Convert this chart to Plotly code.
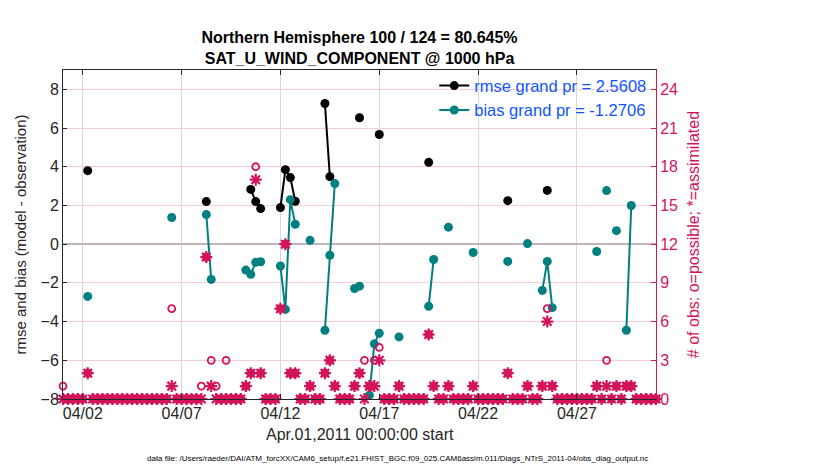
import datetime as dt
import plotly.graph_objects as go

# ---------------- data (6-hourly bins starting Apr 1 2011 00:00) ----------------
start = dt.datetime(2011, 4, 1, 0, 0)
n_bins = 121

assim_bins = [5, 22, 29, 30, 37, 38, 39, 40, 44, 45, 46, 47, 50, 53, 54, 55, 59, 60,
              62, 63, 64, 68, 74, 75, 78, 83, 90, 94, 97, 98, 99, 108, 110, 112, 114, 115]
assim_counts = [2, 1, 11, 1, 1, 2, 17, 2, 7, 12, 2, 2, 1, 2, 3, 1, 1, 2,
                1, 1, 3, 1, 5, 1, 1, 1, 2, 1, 1, 6, 1, 1, 1, 1, 1, 1]
bias_vals = [-2.7, 1.38, 1.53, -1.82, -1.34, -1.56, -0.94, -0.91, -1.13, -3.37, 2.3, 1.03,
             0.2, -4.45, -0.57, 3.13, -2.29, -2.17, -7.8, -5.15, -4.6, -4.79, -3.21, -0.79,
             0.88, -0.43, -0.89, 0.03, -2.39, -0.89, -3.28, -0.38, 2.77, 0.7, -4.45, 2.0]
rmse_vals = [3.8, None, 2.2, None, None, 2.83, 2.2, 1.84, 1.89, 3.85, 3.44, 2.22,
             None, 7.27, 3.49, None, None, 6.53, None, None, 5.67, None, 4.23, None,
             None, None, 2.25, None, None, 2.78, None, None, None, None, None, None]

# bins where the number of possible obs differs from the assimilated count
extra_possible_bins = [0, 22, 28, 30, 31, 33, 39, 61, 63, 64, 98, 110]
extra_possible_counts = [1, 7, 1, 3, 1, 3, 18, 3, 3, 4, 7, 3]

x_tick_dates = ["2011-04-02", "2011-04-07", "2011-04-12", "2011-04-17", "2011-04-22", "2011-04-27"]
x_tick_labels = ["04/02", "04/07", "04/12", "04/17", "04/22", "04/27"]

rmse_label = "rmse grand pr = 2.5608"
bias_label = "bias grand pr = -1.2706"
title_text = "<b>Northern Hemisphere 100 / 124 = 80.645%</b><br><b>SAT_U_WIND_COMPONENT @ 1000 hPa</b>"
data_file = ("data file: /Users/raeder/DAI/ATM_forcXX/CAM6_setup/f.e21.FHIST_BGC.f09_025."
             "CAM6assim.011/Diags_NTrS_2011-04/obs_diag_output.nc")

# ---------------- build full series ----------------
times = [start + dt.timedelta(hours=6 * i) for i in range(n_bins)]
assim = [0] * n_bins
bias = [None] * n_bins
rmse = [None] * n_bins
for b, c, bv, rv in zip(assim_bins, assim_counts, bias_vals, rmse_vals):
    assim[b] = c
    bias[b] = bv
    rmse[b] = rv
possible = list(assim)
for b, c in zip(extra_possible_bins, extra_possible_counts):
    possible[b] = c

FONT = "Liberation Sans, Arial, Helvetica, sans-serif"
CRIMSON = "#d3145a"
TEAL = "#008080"
BLUE = "#0f55ff"

fig = go.Figure()
fig.add_trace(go.Scatter(x=times, y=rmse, mode="lines+markers", name=rmse_label,
                         line=dict(color="black", width=2),
                         marker=dict(color="black", size=9), connectgaps=False))
fig.add_trace(go.Scatter(x=times, y=bias, mode="lines+markers", name=bias_label,
                         line=dict(color=TEAL, width=2),
                         marker=dict(color=TEAL, size=9), connectgaps=False))
fig.add_trace(go.Scatter(x=times, y=possible, mode="markers", yaxis="y2", showlegend=False,
                         cliponaxis=False,
                         marker=dict(symbol="circle-open", size=7, color=CRIMSON,
                                     line=dict(color=CRIMSON, width=1.8))))
fig.add_trace(go.Scatter(x=times, y=assim, mode="markers", yaxis="y2", showlegend=False,
                         cliponaxis=False,
                         marker=dict(symbol="asterisk-open", size=10, color=CRIMSON,
                                     line=dict(color=CRIMSON, width=2.2))))

fig.update_layout(
    width=830, height=470,
    margin=dict(l=49, r=182, t=62, b=79),
    paper_bgcolor="white", plot_bgcolor="white",
    font=dict(family=FONT, size=15, color="#262626"),
    title=dict(text=title_text, x=0.5, xref="paper", y=1 - 35 / 470, yref="container",
               yanchor="middle", font=dict(family=FONT, size=16, color="black")),
    showlegend=True,
    legend=dict(x=0.992, xanchor="right", y=1.005, yanchor="top",
                bgcolor="rgba(0,0,0,0)", font=dict(family=FONT, size=16.5, color=BLUE),
                tracegroupgap=0, itemwidth=30),
    xaxis=dict(type="date", range=[start, start + dt.timedelta(days=30)],
               tickvals=x_tick_dates, ticktext=x_tick_labels, ticks="inside", ticklen=5,
               tickcolor="#262626", showline=True, linecolor="#262626", linewidth=1,
               mirror="ticks", showgrid=True, gridcolor="#d8d8d8", gridwidth=1,
               tickfont=dict(size=16), zeroline=False),
    yaxis=dict(range=[-8, 9], dtick=2, tick0=-8, ticks="inside", ticklen=4,
               tickcolor="#262626", showline=True, linecolor="#262626", linewidth=1,
               showgrid=False, zeroline=True, zerolinecolor="#c0b4ba", zerolinewidth=2,
               tickfont=dict(size=16),
               title=dict(text="rmse and bias (model - observation)", standoff=10,
                          font=dict(size=15, color="#262626"))),
    yaxis2=dict(range=[0, 25.5], dtick=3, tick0=0, overlaying="y", side="right",
                ticks="inside", ticklen=5, tickcolor=CRIMSON, showline=True,
                linecolor=CRIMSON, linewidth=1, showgrid=True, gridcolor="#f6cbdb",
                gridwidth=1, zeroline=False, tickfont=dict(size=16, color=CRIMSON),
                title=dict(text="# of obs: o=possible; *=assimilated", standoff=10,
                           font=dict(size=16, color=CRIMSON))),
)

fig.add_annotation(text="Apr.01,2011 00:00:00 start", xref="paper", yref="paper",
                   x=0.5, y=-(435 - 399) / 329, xanchor="center", yanchor="middle",
                   showarrow=False, font=dict(family=FONT, size=16, color="#262626"))
fig.add_annotation(text=data_file, xref="paper", yref="paper",
                   x=(395 - 57) / 599, y=-(458 - 399) / 329, xanchor="center", yanchor="middle",
                   showarrow=False, font=dict(family=FONT, size=8, color="black"))

fig.write_html("out.html")
